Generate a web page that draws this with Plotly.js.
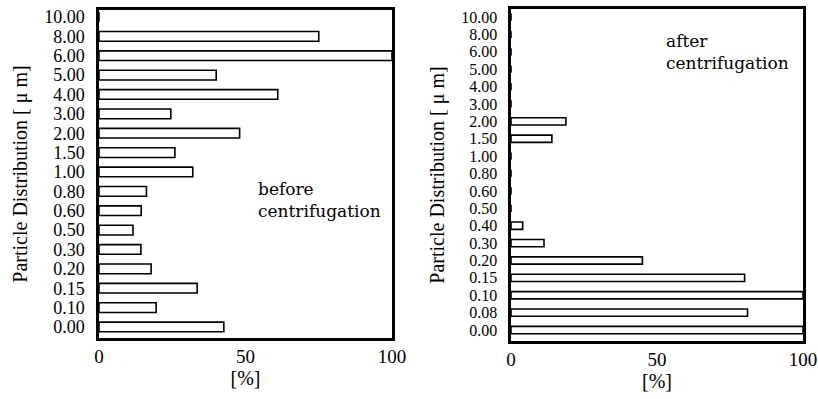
<!DOCTYPE html>
<html>
<head>
<meta charset="utf-8">
<script src="https://cdn.plot.ly/plotly-3.0.1.min.js"></script>
<style>html,body{margin:0;padding:0;background:#fff;}#chart{width:818px;height:399px;}</style>
</head>
<body>
<div id="chart"></div>
<script>
// Particle size categories (µm), bottom to top
const catsBefore = ['0.00','0.10','0.15','0.20','0.30','0.50','0.60','0.80','1.00','1.50','2.00','3.00','4.00','5.00','6.00','8.00','10.00'];
const valuesBefore = [42.6, 19.5, 33.5, 17.8, 14.3, 11.6, 14.4, 16.2, 32, 25.9, 48, 24.5, 61, 40, 100, 75, 0];

const catsAfter = ['0.00','0.08','0.10','0.15','0.20','0.30','0.40','0.50','0.60','0.80','1.00','1.50','2.00','3.00','4.00','5.00','6.00','8.00','10.00'];
const valuesAfter = [100, 81, 100, 80, 45, 11.3, 4, 0, 0, 0, 0, 14, 18.8, 0, 0, 0, 0, 0, 0];

const xTickVals = [0, 50, 100];
const xTickText = ['0', '50', '100'];

const serif = 'Liberation Serif';

const barStyle = {color: '#ffffff', line: {color: '#000000', width: 1.6}};

const traces = [
  {type: 'bar', orientation: 'h', y: catsBefore, x: valuesBefore, xaxis: 'x', yaxis: 'y',
   width: 0.5, marker: barStyle, hoverinfo: 'none', showlegend: false},
  {type: 'bar', orientation: 'h', y: catsAfter, x: valuesAfter, xaxis: 'x2', yaxis: 'y2',
   width: 0.42, marker: barStyle, hoverinfo: 'none', showlegend: false}
];

function xAxis(domain, anchor) {
  return {
    domain: domain, anchor: anchor, range: [0, 100],
    tickmode: 'array', tickvals: xTickVals, ticktext: xTickText, ticks: '',
    showgrid: false, zeroline: false,
    showline: true, mirror: true, linecolor: '#000', linewidth: 2.6,
    tickfont: {family: serif, size: 19, color: '#000'},
    ticklabelstandoff: 0, ticklabeloverflow: 'allow',
    title: {text: '[%]', font: {family: serif, size: 20, color: '#000'}, standoff: 4}
  };
}
function yAxis(domain, anchor, cats, range, fs) {
  return {
    domain: domain, anchor: anchor, type: 'category',
    categoryorder: 'array', categoryarray: cats, range: range,
    tickmode: 'array', tickvals: cats, ticktext: cats,
    ticks: '', showgrid: false, zeroline: false,
    showline: true, mirror: true, linecolor: '#000', linewidth: 2.6,
    tickfont: {family: serif, size: fs, color: '#000'},
    ticklabelstandoff: 8, ticklabeloverflow: 'allow',
    title: {text: 'Particle Distribution [ μ m]', font: {family: serif, size: 20, color: '#000'}, standoff: 12}
  };
}

const layout = {
  width: 818, height: 399,
  margin: {l: 0, r: 0, t: 0, b: 0},
  paper_bgcolor: '#fff', plot_bgcolor: '#fff',
  bargap: 0.5,
  xaxis: xAxis([99/818, 392/818], 'y'),
  yaxis: yAxis([1 - 338/399, 1 - 10/399], 'x', catsBefore, [-0.57, 16.36], 18),
  xaxis2: xAxis([511/818, 803/818], 'y2'),
  yaxis2: yAxis([1 - 341/399, 1 - 9/399], 'x2', catsAfter, [-0.63, 18.46], 16),
  annotations: [
    {xref: 'paper', yref: 'paper', x: 256/818, y: 1 - 200/399, xanchor: 'left', yanchor: 'middle',
     text: 'before<br>centrifugation', align: 'left', showarrow: false,
     font: {family: 'DejaVu Serif', size: 17, color: '#000'}},
    {xref: 'paper', yref: 'paper', x: 664/818, y: 1 - 52/399, xanchor: 'left', yanchor: 'middle',
     text: 'after<br>centrifugation', align: 'left', showarrow: false,
     font: {family: 'DejaVu Serif', size: 17, color: '#000'}}
  ]
};

Plotly.newPlot('chart', traces, layout, {staticPlot: true, displayModeBar: false});
</script>
</body>
</html>
